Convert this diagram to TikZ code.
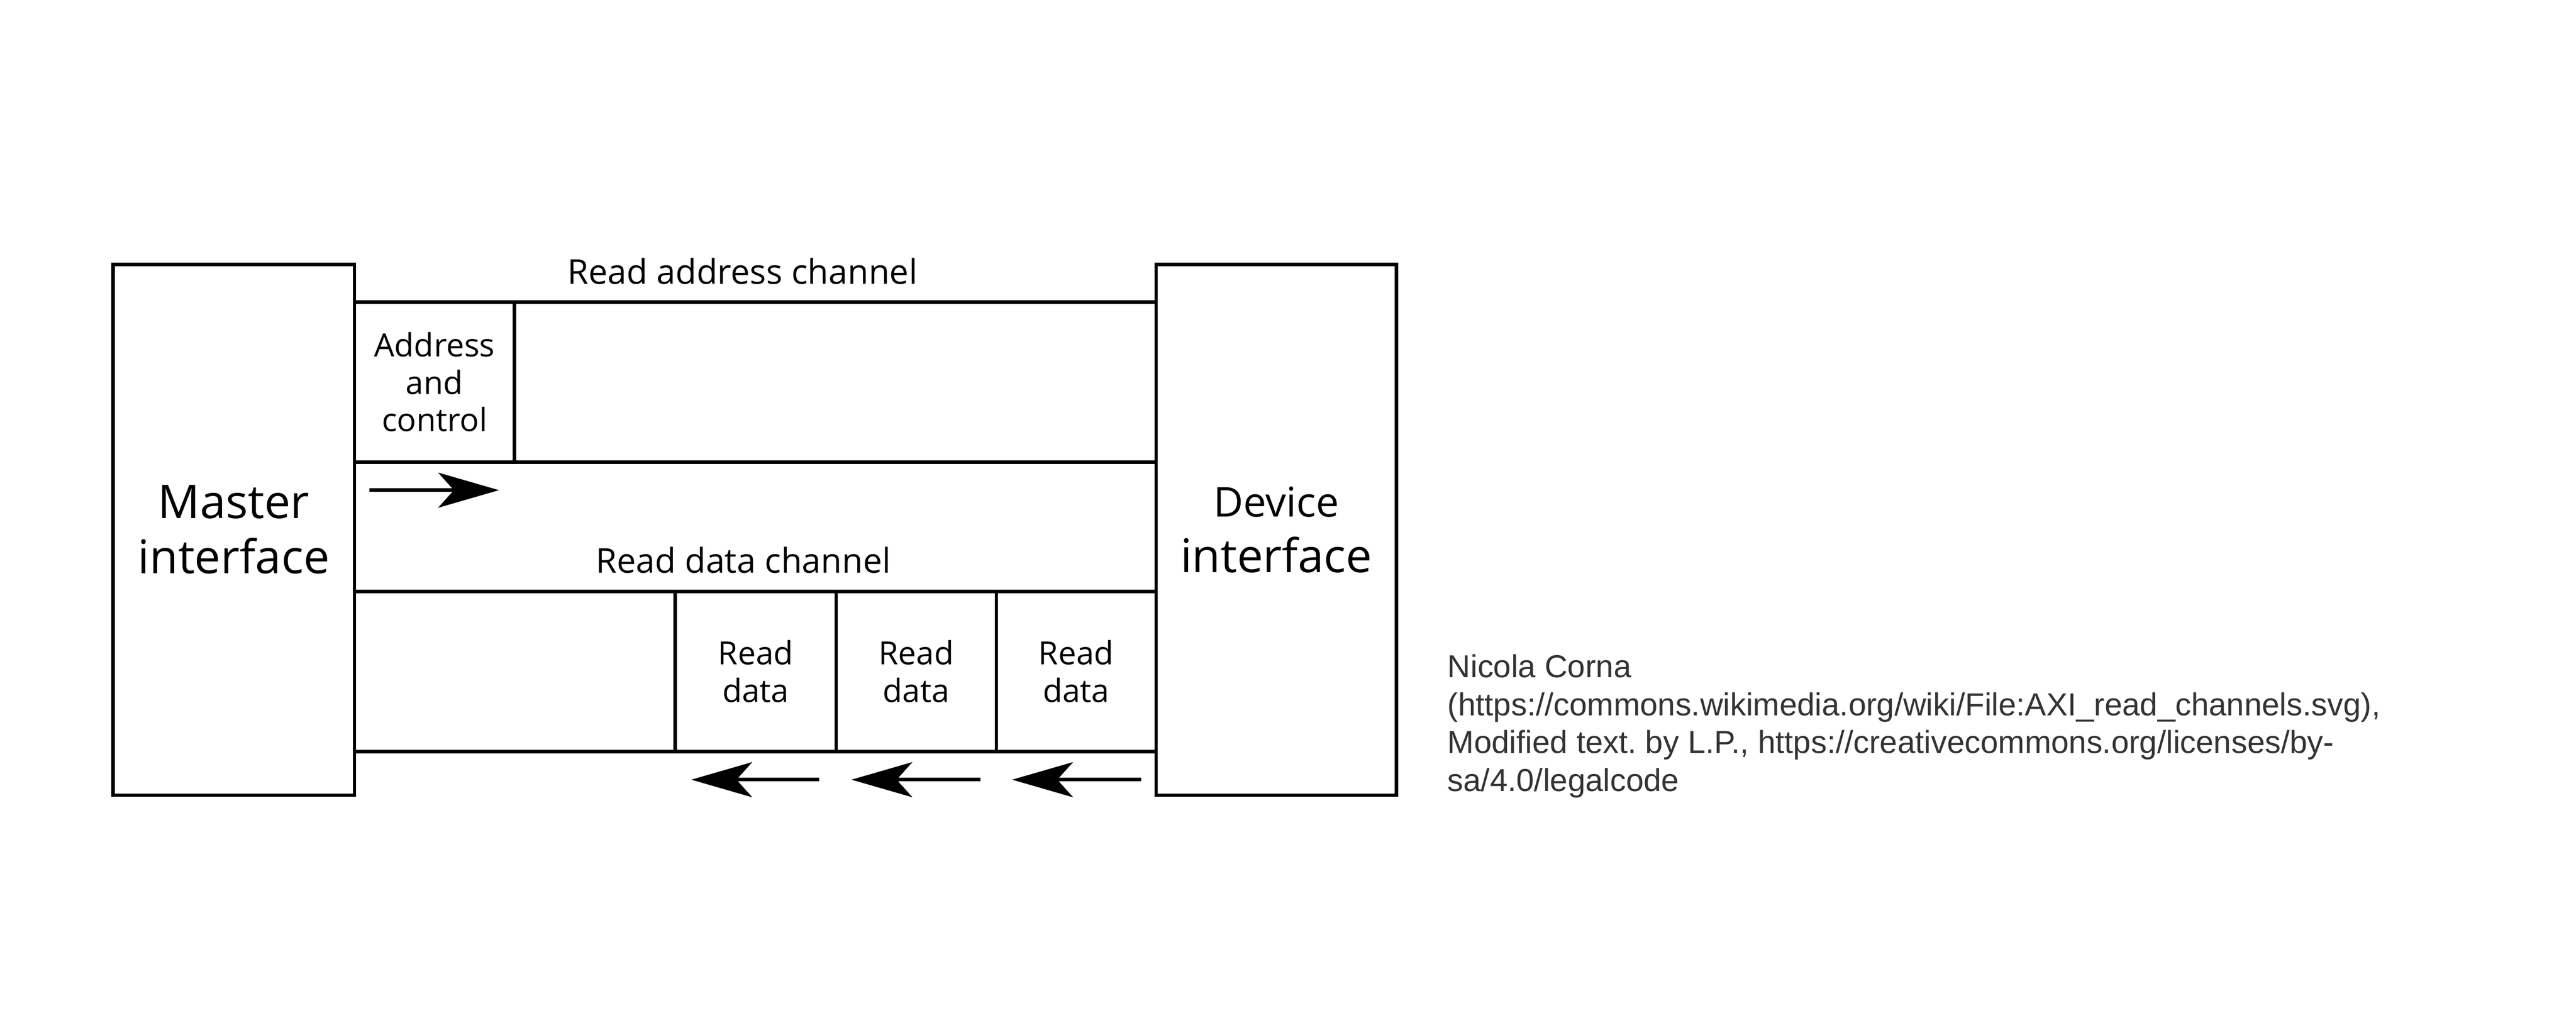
\documentclass[tikz,border=0pt]{standalone}
\usepackage{fontspec}
\setmainfont{Open Sans}
\newfontfamily\creditfont{Liberation Sans}
\usetikzlibrary{arrows.meta}
\definecolor{creditgray}{HTML}{333333}
\frenchspacing
\begin{document}
\begin{tikzpicture}[x=1bp,y=-1bp,
  ifbox/.style={draw, line width=2bp, inner sep=0pt, align=center,
    font=\fontsize{28.3bp}{33.6bp}\selectfont},
  cell/.style={draw, line width=2bp, inner sep=0pt, align=center,
    font=\fontsize{19.5bp}{22.8bp}\selectfont},
  chanline/.style={line width=2.1bp},
  chanlbl/.style={inner sep=0pt, anchor=base, font=\fontsize{20.8bp}{25bp}\selectfont},
  flow/.style={line width=2.2bp,
    -{Stealth[length=37bp, width=21.4bp, inset=9.6bp, line width=0.1bp]}},
]
\useasboundingbox (0,0) rectangle (1568.1,627.1);

% interface boxes
\node[ifbox, minimum width=147bp, minimum height=323.2bp] (master) at (142.3,322.6)
  {Master\\interface};
\node[ifbox, minimum width=146.3bp, minimum height=323.2bp] (device) at (776.85,322.6)
  {{\fontsize{25bp}{33.6bp}\selectfont Device}\\interface};

% channel levels
\coordinate (ra1) at (0,183.9);
\coordinate (ra2) at (0,281.4);
\coordinate (rd1) at (0,360.1);
\coordinate (rd2) at (0,457.8);

\draw[chanline] (master.east |- ra1) -- (device.west |- ra1);
\draw[chanline] (master.east |- ra2) -- (device.west |- ra2);
\draw[chanline] (master.east |- rd1) -- (device.west |- rd1);
\draw[chanline] (master.east |- rd2) -- (device.west |- rd2);

% cells
\node[cell, minimum width=97.4bp, minimum height=97.5bp] (addr) at (264.5,232.65)
  {Address\\and\\control};
\node[cell, minimum width=98bp, minimum height=97.7bp] (rdA) at (460,408.95)
  {Read\\data};
\node[cell, minimum width=97.5bp, minimum height=97.7bp] (rdB) at (557.75,408.95)
  {Read\\data};
\node[cell, minimum width=97.2bp, minimum height=97.7bp] (rdC) at (655.1,408.95)
  {Read\\data};

% channel labels
\node[chanlbl] (ralbl) at (452,173) {Read address channel};
\node[chanlbl] (rdlbl) at (452.5,349) {Read data channel};

% arrows
\coordinate (w0) at (224.9,298.5);
\coordinate (w1) at (303.7,298.5);
\draw[flow] (w0) -- (w1);

\coordinate (a0) at (498.8,474.8);
\coordinate (a1) at (420.9,474.8);
\coordinate (b0) at (596.9,474.8);
\coordinate (b1) at (518.4,474.8);
\coordinate (c0) at (694.6,474.8);
\coordinate (c1) at (616.2,474.8);
\draw[flow] (a0) -- (a1);
\draw[flow] (b0) -- (b1);
\draw[flow] (c0) -- (c1);

% credit (base anchor = baseline of last line)
\node[inner sep=0pt, anchor=base west, align=left, text=creditgray,
  font=\creditfont\fontsize{19.35bp}{23.1bp}\selectfont] (credit) at (881,481.9)
  {Nicola Corna\\(https://commons.wikimedia.org/wiki/File:AXI\_read\_channels.svg),\\Modified text. by L.P., https://creativecommons.org/licenses/by-\\sa/4.0/legalcode};
\end{tikzpicture}
\end{document}
